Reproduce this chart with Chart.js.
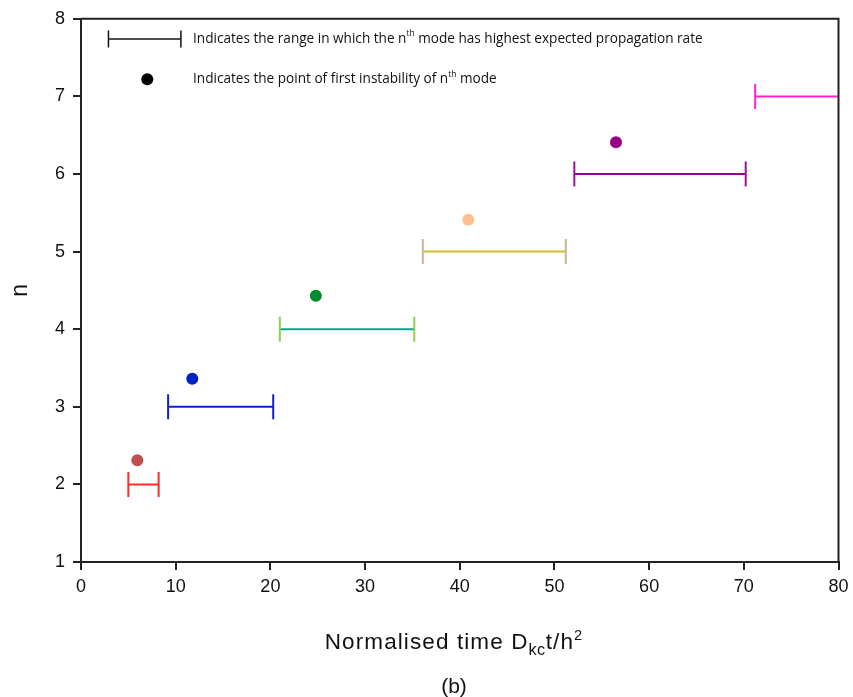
<!DOCTYPE html>
<html>
<head>
<meta charset="utf-8">
<script src="https://cdn.jsdelivr.net/npm/chart.js@4.4.0/dist/chart.umd.min.js"></script>
<style>
  html, body { margin: 0; padding: 0; background: #fff; }
  #wrap { position: relative; width: 853px; height: 697px; }
  canvas { position: absolute; left: 0; top: 0; }
  .xt { position: absolute; left: 0; width: 908px; text-align: center; font-family: "Liberation Sans", Arial, sans-serif; color: #111; white-space: nowrap; line-height: 1; }
  .xt sub { font-size: 72%; vertical-align: -0.4em; letter-spacing: 0.5px; }
  .xt sup { font-size: 65%; vertical-align: 0.6em; }
</style>
</head>
<body>
<div id="wrap">
  <canvas id="c" width="853" height="697"></canvas>
  <div class="xt" id="xtitle" style="top:628px;font-size:22.5px;letter-spacing:1.1px;">Normalised time D<sub>kc</sub>t/h<sup>2</sup></div>
  <div class="xt" id="cap" style="top:675px;font-size:21px;">(b)</div>
</div>
<script>
// ---- data ----
const modes       = [2, 3, 4, 5, 6, 7];
const rangeStart  = [5.0, 9.2, 21.0, 36.1, 52.1, 71.2];
const rangeEnd    = [8.2, 20.3, 35.2, 51.2, 70.2, 80];
const instabModes = [2, 3, 4, 5, 6];
const instabX     = [5.95, 11.75, 24.8, 40.9, 56.5];
const instabN     = [2.31, 3.36, 4.43, 5.41, 6.41];
const xTicks      = [0, 10, 20, 30, 40, 50, 60, 70, 80];
const yTicks      = [1, 2, 3, 4, 5, 6, 7, 8];
const keyRange    = [2.9, 10.55];
const keyRangeY   = 7.74;
const keyDot      = [7.0, 7.22];
const keyTexts    = [
  ["Indicates the range in which the n", "th", " mode has highest expected propagation rate"],
  ["Indicates the point of first instability of n", "th", " mode"]
];

// ---- styles ----
const lineColors = ['#ff2a2a', '#1020cc', '#00a98c', '#d6bc28', '#990090', '#ff22cc'];
const capColors  = ['#ff2a2a', '#1020cc', '#8fd04e', '#c8b890', '#a0109a', '#ff22cc'];
const dotColors  = ['#c0504d', '#0020c8', '#008a2e', '#ffc08c', '#990088'];

const datasets = [];
modes.forEach((n, i) => {
  const last = (i === modes.length - 1);
  datasets.push({
    type: 'scatter',
    showLine: true,
    data: [{x: rangeStart[i], y: n}, {x: rangeEnd[i], y: n}],
    borderColor: lineColors[i],
    borderWidth: 2,
    pointStyle: 'line',
    rotation: 90,
    pointRadius: last ? [12.5, 0] : 12.5,
    pointBorderColor: capColors[i],
    pointBorderWidth: 2,
    pointHoverRadius: 0,
    clip: 0
  });
});
instabModes.forEach((n, i) => {
  datasets.push({
    type: 'scatter',
    data: [{x: instabX[i], y: instabN[i]}],
    pointStyle: 'circle',
    pointRadius: 6,
    backgroundColor: dotColors[i],
    borderColor: dotColors[i],
    borderWidth: 0
  });
});
// key marks
datasets.push({
  type: 'scatter', showLine: true,
  data: [{x: keyRange[0], y: keyRangeY}, {x: keyRange[1], y: keyRangeY}],
  borderColor: '#111', borderWidth: 1.5,
  pointStyle: 'line', rotation: 90, pointRadius: 8.5,
  pointBorderColor: '#111', pointBorderWidth: 1.5
});
datasets.push({
  type: 'scatter',
  data: [{x: keyDot[0], y: keyDot[1]}],
  pointStyle: 'circle', pointRadius: 6,
  backgroundColor: '#000', borderColor: '#000', borderWidth: 0
});

const boxPlugin = {
  id: 'box',
  afterDraw(chart) {
    const {ctx, chartArea: a, scales} = chart;
    ctx.save();
    ctx.strokeStyle = '#222';
    ctx.lineWidth = 2;
    ctx.beginPath();
    ctx.moveTo(a.left, a.top); ctx.lineTo(a.right, a.top); ctx.lineTo(a.right, a.bottom);
    ctx.stroke();
    // key texts
    ctx.fillStyle = '#111';
    ctx.textBaseline = 'middle';
    const tx = a.left + 112;
    const ys = [scales.y.getPixelForValue(keyRangeY), scales.y.getPixelForValue(keyDot[1])];
    keyTexts.forEach((parts, k) => {
      let x = tx;
      const y = ys[k];
      ctx.font = '13.6px "Open Sans", sans-serif';
      ctx.fillText(parts[0], x, y);
      x += ctx.measureText(parts[0]).width;
      ctx.font = '8.5px "Open Sans", sans-serif';
      ctx.fillText(parts[1], x, y - 5);
      x += ctx.measureText(parts[1]).width;
      ctx.font = '13.6px "Open Sans", sans-serif';
      ctx.fillText(parts[2], x, y);
    });
    ctx.restore();
  }
};

new Chart(document.getElementById('c'), {
  type: 'scatter',
  data: { datasets },
  plugins: [boxPlugin],
  options: {
    responsive: false,
    animation: false,
    events: [],
    layout: { padding: { top: 16, right: 0, bottom: 95, left: 0 } },
    plugins: { legend: { display: false }, tooltip: { enabled: false } },
    scales: {
      x: {
        type: 'linear', min: 0, max: 80,
        afterBuildTicks: s => { s.ticks = xTicks.map(v => ({value: v})); },
        afterFit: s => { s.height = 40; s.paddingRight = 14; },
        grid: { display: true, drawOnChartArea: false, drawTicks: true, tickLength: 8, color: '#222', lineWidth: 2 },
        border: { display: true, color: '#222', width: 2 },
        ticks: { color: '#111', font: { family: '"Liberation Sans", Arial, sans-serif', size: 18 }, padding: 6, maxRotation: 0 }
      },
      y: {
        type: 'linear', min: 1, max: 8,
        afterBuildTicks: s => { s.ticks = yTicks.map(v => ({value: v})); },
        afterFit: s => { s.width = 81; },
        grid: { display: true, drawOnChartArea: false, drawTicks: true, tickLength: 8, color: '#222', lineWidth: 2 },
        border: { display: true, color: '#222', width: 2 },
        ticks: { color: '#111', font: { family: '"Liberation Sans", Arial, sans-serif', size: 18 }, padding: 8 },
        title: { display: true, text: 'n', color: '#111', font: { family: '"Liberation Sans", Arial, sans-serif', size: 23 }, padding: { top: 7, bottom: 0 } }
      }
    }
  }
});
</script>
</body>
</html>
